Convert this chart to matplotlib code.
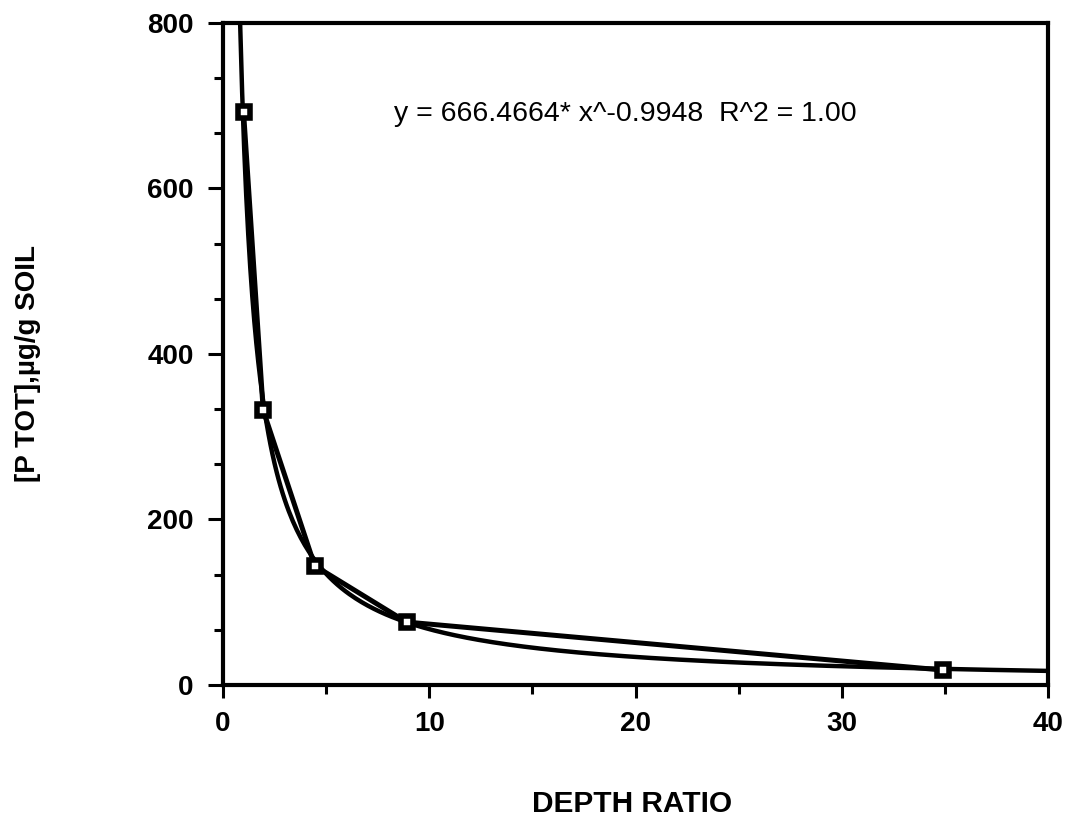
import numpy as np
import matplotlib
matplotlib.use("Agg")
import matplotlib.pyplot as plt
from matplotlib.ticker import MultipleLocator

# measured points
depth_ratio = [1.0, 1.95, 4.45, 8.9, 34.9]
p_tot = [692, 332, 144, 76, 18]

# power fit printed on the chart
fit_a = 666.4664
fit_b = -0.9948
fit_label = "y = 666.4664* x^-0.9948  R^2 = 1.00"

x_ticks = [0, 10, 20, 30, 40]
y_ticks = [0, 200, 400, 600, 800]

plt.rcParams["font.family"] = ["Liberation Sans", "DejaVu Sans"]

fig = plt.figure(figsize=(10.75, 8.21), dpi=100)
ax = fig.add_axes([0.2074, 0.1657, 0.7676, 0.8063])

# fitted curve, from where it enters the plot up to x = 40
x_start = (800 / fit_a) ** (1 / fit_b)
xf = np.linspace(x_start, 40, 400)
ax.plot(xf, fit_a * xf ** fit_b, color="black", linewidth=3.2, zorder=2)

# data line with square markers
ax.plot(depth_ratio, p_tot, color="black", linewidth=3.6, zorder=3)
ax.plot(depth_ratio, p_tot, linestyle="none", marker="s", markersize=9,
        markerfacecolor="white", markeredgecolor="black",
        markeredgewidth=4, zorder=4)

ax.set_xlim(0, 40)
ax.set_ylim(0, 800)
ax.set_xticks(x_ticks)
ax.set_yticks(y_ticks)
ax.xaxis.set_minor_locator(MultipleLocator(5))
ax.yaxis.set_minor_locator(MultipleLocator(200 / 3))

for spine in ax.spines.values():
    spine.set_linewidth(3)

ax.tick_params(axis="both", which="major", direction="out", length=11,
               width=2.2, labelsize=20)
ax.tick_params(axis="both", which="minor", direction="out", length=6.5,
               width=2.2)
ax.tick_params(axis="x", which="major", length=9.5, pad=9)
ax.tick_params(axis="y", which="major", pad=10)
for lab in ax.get_xticklabels() + ax.get_yticklabels():
    lab.set_fontweight("bold")

ax.text(8.3, 690, fit_label, fontsize=20.5, va="center", ha="left")

ax.set_xlabel("DEPTH RATIO", fontsize=21.5, fontweight="bold")
ax.set_ylabel("[P TOT],\u00b5g/g SOIL", fontsize=20, fontweight="bold")
ax.xaxis.set_label_coords(0.496, -0.159)
ax.yaxis.set_label_coords(-0.22, 0.485)

fig.savefig("out.png", dpi=100)
